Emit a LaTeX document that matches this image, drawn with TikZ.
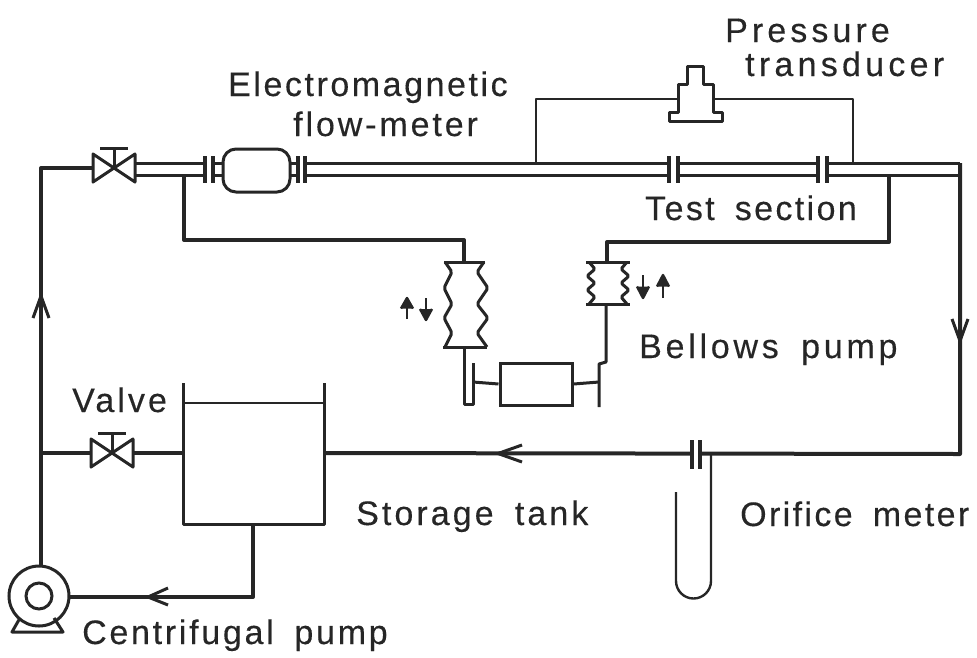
\documentclass[tikz,border=0pt]{standalone}
\usepackage{fontspec}
\usepackage{tikz}
\usetikzlibrary{calc}
\setmainfont[WordSpace=1.7,FakeBold=0.3]{Liberation Sans}
\definecolor{inkcol}{HTML}{262626}
\tikzset{
  pipe/.style={draw=inkcol, line width=4pt, line join=round},
  wall/.style={draw=inkcol, line width=3pt, line join=round},
  lead/.style={draw=inkcol, line width=2.4pt, line join=round},
  tag/.style={anchor=base west, inner sep=0pt, text=inkcol,
    font=\fontsize{34}{38}\selectfont\addfontfeature{LetterSpace=#1}},
  tag/.default=8
}
\begin{document}
\begin{tikzpicture}[x=1pt, y=-1pt]
    \useasboundingbox (0,0) rectangle (977,657);
    \coordinate (PumpOut)   at (41,566);
    \coordinate (CornerTL)  at (41,168);
    \coordinate (ValveOne)  at (114,168);
    \coordinate (ValveTwo)  at (112,453);
    \coordinate (JoinLeft)  at (41,453);
    \coordinate (TankL)     at (183,453);
    \coordinate (TankR)     at (324,453);
    \coordinate (CornerBR)  at (960,454);
    \coordinate (CornerTR)  at (960,163);
    \coordinate (TankOut)   at (253,524);
    \coordinate (PumpIn)    at (69,597);
    \draw [pipe] (PumpOut) -- (CornerTL) -- (ValveOne);% main riser
    \draw [pipe] (JoinLeft) -- (ValveTwo) -- (TankL);% tank return
    \draw [pipe] (TankR) -- (CornerBR) -- (CornerTR);% return line
    \draw [pipe] (TankOut) |- (PumpIn);% suction line

    % The double wall of the pipe, broken at each flange
    \foreach \xa/\xb in {136/205,213/223,290/298,305/669,678/818,827/960}{%
      \draw [wall] (\xa,163) -- (\xb,163);
      \draw [wall] (\xa,175.5) -- (\xb,175.5);
    }
    \foreach \x in {205,213,298,305,669,678,818,827}{% Flanges
      \draw [pipe] (\x,156) -- (\x,183);
    }
    \fill [white] (692,448) rectangle (700,460);
    \foreach \x in {692,700}{%
      \draw [pipe] (\x,440) -- (\x,469);
    }

    % Valves
    \foreach \v in {ValveOne,ValveTwo}{%
      \draw [wall, fill=white] ($(\v)+(-21,-14)$) -- ($(\v)+(21,14)$)
        -- ($(\v)+(21,-14)$) -- ($(\v)+(-21,14)$) -- cycle;
      \draw [wall] (\v) -- ++(0,-20) ++(-14,0) -- ++(28,0);
    }

    \node [draw=inkcol, line width=3pt, fill=white, rounded corners=13pt, minimum width=67pt,
      minimum height=43pt, inner sep=0pt] (FlowMeter) at (256.5,170.5) {};

    % Pressure transducer
    \coordinate (TapLeft)  at (536,163);
    \coordinate (TapRight) at (853,163);
    \coordinate (HeadL)    at (678,99);
    \coordinate (HeadR)    at (713,99);
    \draw [lead] (TapLeft) |- (HeadL);
    \draw [lead] (TapRight) |- (HeadR);
    \draw [wall] (687,84) -- (687,66) -- (703,66) -- (703,84) -- (713,84) -- (713,112)
      -- (722,112) -- (722,121) -- (669,121) -- (669,112) -- (678,112) -- (678,84) -- cycle;

    % Bellows pump
    \coordinate (BranchL)  at (184,175);
    \coordinate (StemL)    at (464,262);
    \coordinate (BranchR)  at (889,176);
    \coordinate (StemR)    at (607,262);
    \draw [pipe] (BranchL) |- (StemL |- 0,240) -- (StemL);
    \draw [pipe] (BranchR) |- (StemR |- 0,242) -- (StemR);
    \draw [wall] (444,262) -- (485,262) (443,347) -- (487,347);
    \draw [wall, rounded corners=2pt] (445,262) -- (452,272) -- (444,288) -- (452,304) -- (444,318)
      -- (452,333) -- (445,347);
    \draw [wall, rounded corners=2pt] (484,262) -- (477,272) -- (488,288) -- (477,304) -- (488,318)
      -- (477,333) -- (487,347);
    \draw [wall] (586,262) -- (630,262) (586,304) -- (630,304);
    \draw [wall, rounded corners=1.5pt] (589,262) -- (595,269) -- (587,276) -- (595,283) -- (587,290)
      -- (595,297) -- (589,304);
    \draw [wall, rounded corners=1.5pt] (627,262) -- (621,269) -- (629,276) -- (621,283) -- (629,290)
      -- (621,297) -- (627,304);
    \node [draw=inkcol, line width=3pt, minimum width=72pt, minimum height=42pt,
      inner sep=0pt] (Cylinder) at (536,384) {};
    \coordinate (PlateL) at (473,382);
    \coordinate (PlateR) at (599,382);
    \draw [wall] (Cylinder.west) -- (PlateL);
    \draw [wall] (Cylinder.east) -- (PlateR);
    \draw [wall] (464,347) -- (464,404) -- (473,404) -- (473,363);
    \draw [wall] (606,304) -- (606,362) -- (599,364) -- (599,407);

    % Small motion arrows
    \foreach \x/\ya/\yb in {407/319/298,426/298/320,643/275/298,663/298/275}{%
      \draw [lead] (\x,\ya) -- (\x,\yb);
      \draw [lead, fill=inkcol] (\x-6,{\yb+(\ya-\yb)*0.5}) -- (\x,\yb) -- (\x+6,{\yb+(\ya-\yb)*0.5});
    }

    % Storage tank
    \draw [wall] (183,383) -- (183,524) -- (324,524) -- (324,383);
    \draw [lead] (183,403) -- (324,403);

    % Orifice manometer
    \draw [lead] (711,454) -- (711,581) arc (0:180:17.5) -- (676,492);

    % Centrifugal pump
    \node [draw=inkcol, line width=3pt, circle, minimum size=60pt, inner sep=0pt, fill=white] (Pump) at (39,596) {};
    \node [draw=inkcol, line width=3pt, circle, minimum size=26pt, inner sep=0pt] (PumpEye) at (39,596) {};
    \draw [wall] (20,618) -- (12,632) -- (63,632) -- (54,618);

    % Flow arrows, open heads on the line
    \draw [wall] (33,318) -- (41,296) -- (49,318);
    \draw [wall] (952,319) -- (960,341) -- (968,319);
    \draw [wall] (168,588) -- (148,597) -- (168,605);
    \draw [wall] (522,445) -- (498,453.5) -- (522,462);

    \node [tag=12]  (TextPressure) at (725,42) {Pressure};
    \node [tag=12.5](TextTrans)    at (745,76) {transducer};
    \node [tag=7.5] (TextElectro)  at (228,96) {Electromagnetic};
    \node [tag=8.5] (TextFlow)     at (293,136) {flow-meter};
    \node [tag=7]   (TextTest)     at (645,220) {Test section};
    \node [tag=11]  (TextBellows)  at (639,358) {Bellows pump};
    \node [tag=9]   (TextValve)    at (72,412) {Valve};
    \node [tag=9]   (TextStorage)  at (356,525) {Storage tank};
    \node [tag=7]   (TextOrifice)  at (740,526) {Orifice meter};
    \node [tag=8]   (TextCentri)   at (82,644) {Centrifugal pump};
\end{tikzpicture}
\end{document}
